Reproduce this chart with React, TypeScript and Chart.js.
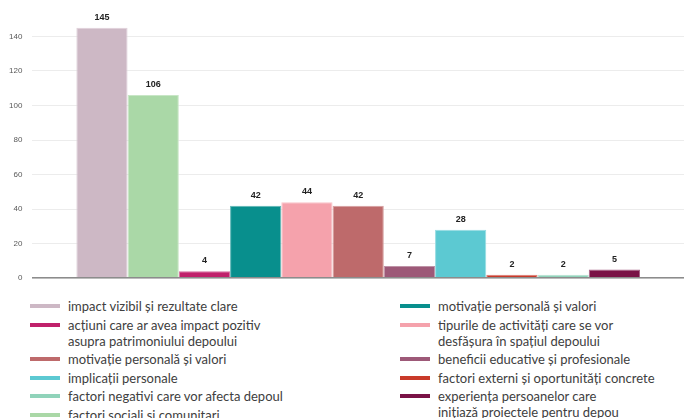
import React, { useEffect, useRef } from "react";
import { Chart, registerables } from "chart.js";

Chart.register(...registerables);

// Series in bar order (left to right)
const seriesNames: string[] = [
  "impact vizibil și rezultate clare",
  "factori sociali și comunitari",
  "acțiuni care ar avea impact pozitiv\nasupra patrimoniului depoului",
  "motivație personală și valori",
  "tipurile de activități care se vor\ndesfășura în spațiul depoului",
  "motivație personală și valori",
  "beneficii educative și profesionale",
  "implicații personale",
  "factori externi și oportunități concrete",
  "factori negativi care vor afecta depoul",
  "experiența persoanelor care\ninițiază proiectele pentru depou",
];
const seriesValues: number[] = [145, 106, 4, 42, 44, 42, 7, 28, 2, 2, 5];
const seriesColors: string[] = [
  "#CDB8C5",
  "#AAD8A7",
  "#C0216B",
  "#088F8D",
  "#F5A2AC",
  "#BE6A6B",
  "#9D5978",
  "#5CC9D2",
  "#C93A2A",
  "#90D3BA",
  "#7A1246",
];
const categories: string[] = [""];
const yTickValues: number[] = [0, 20, 40, 60, 80, 100, 120, 140];
const legendLeft: number[] = [0, 2, 5, 7, 9, 1];
const legendRight: number[] = [3, 4, 6, 8, 10];

function lighten(hex: string, amt: number): string {
  const n = parseInt(hex.slice(1), 16);
  const r = (n >> 16) & 255;
  const g = (n >> 8) & 255;
  const b = n & 255;
  const f = (c: number) => Math.round(c + (255 - c) * amt);
  return `rgb(${f(r)}, ${f(g)}, ${f(b)})`;
}

const valueLabelPlugin = {
  id: "valueLabels",
  afterDatasetsDraw(chart: any) {
    const ctx = chart.ctx;
    ctx.save();
    ctx.font = "bold 9px 'Liberation Sans', Arial, sans-serif";
    ctx.fillStyle = "#222222";
    ctx.textAlign = "center";
    ctx.textBaseline = "bottom";
    chart.data.datasets.forEach((ds: any, i: number) => {
      const meta = chart.getDatasetMeta(i);
      meta.data.forEach((el: any, j: number) => {
        ctx.fillText(String(ds.data[j]), el.x, el.y - 6);
      });
    });
    ctx.restore();
  },
};

function LegendItem({ idx }: { idx: number }) {
  return (
    <div style={{ display: "flex", alignItems: "flex-start", marginBottom: 2.5 }}>
      <div
        style={{
          width: 30,
          height: 4,
          marginTop: 6,
          background: seriesColors[idx],
          flex: "0 0 auto",
        }}
      />
      <div style={{ marginLeft: 8, whiteSpace: "pre", lineHeight: "16px" }}>
        {seriesNames[idx]}
      </div>
    </div>
  );
}

export default function App() {
  const canvasRef = useRef<HTMLCanvasElement | null>(null);

  useEffect(() => {
    if (!canvasRef.current) return;
    const chart = new Chart(canvasRef.current, {
      type: "bar",
      data: {
        labels: categories,
        datasets: seriesNames.map((name, i) => ({
          label: name,
          data: [seriesValues[i]],
          backgroundColor: seriesColors[i],
          borderColor: lighten(seriesColors[i], 0.35),
          borderWidth: 1,
          categoryPercentage: 0.865,
          barPercentage: 1,
        })),
      },
      options: {
        animation: false,
        responsive: true,
        maintainAspectRatio: false,
        layout: { padding: { left: -1, top: 0, right: 0, bottom: 0 } },
        plugins: {
          legend: { display: false },
          tooltip: { enabled: false },
        },
        scales: {
          x: {
            grid: { display: false },
            ticks: { display: false },
            border: { color: "#8c8c8c", width: 1.5, z: 1 },
          },
          y: {
            min: 0,
            max: 160,
            afterBuildTicks: (axis: any) => {
              axis.ticks = yTickValues.map((v) => ({ value: v }));
            },
            ticks: {
              font: { size: 8, family: "'Liberation Sans', Arial, sans-serif" },
              color: "#595959",
              padding: 10,
            },
            grid: { color: "#ececec", drawTicks: false },
            border: { display: false },
          },
        },
      },
      plugins: [valueLabelPlugin],
    });
    return () => chart.destroy();
  }, []);

  return (
    <div
      style={{
        position: "absolute",
        left: 0,
        top: 0,
        width: 684,
        height: 418,
        overflow: "hidden",
        background: "#ffffff",
      }}
    >
      <div style={{ position: "absolute", left: 0, top: -13, width: 684, height: 306 }}>
        <canvas ref={canvasRef} />
      </div>
      <div
        style={{
          position: "absolute",
          left: 30,
          top: 298,
          fontFamily: "Lato, 'Noto Sans', sans-serif",
          fontSize: 13,
          color: "#404040",
        }}
      >
        {legendLeft.map((i) => (
          <LegendItem key={i} idx={i} />
        ))}
      </div>
      <div
        style={{
          position: "absolute",
          left: 400,
          top: 298,
          fontFamily: "Lato, 'Noto Sans', sans-serif",
          fontSize: 13,
          color: "#404040",
        }}
      >
        {legendRight.map((i) => (
          <LegendItem key={i} idx={i} />
        ))}
      </div>
    </div>
  );
}
